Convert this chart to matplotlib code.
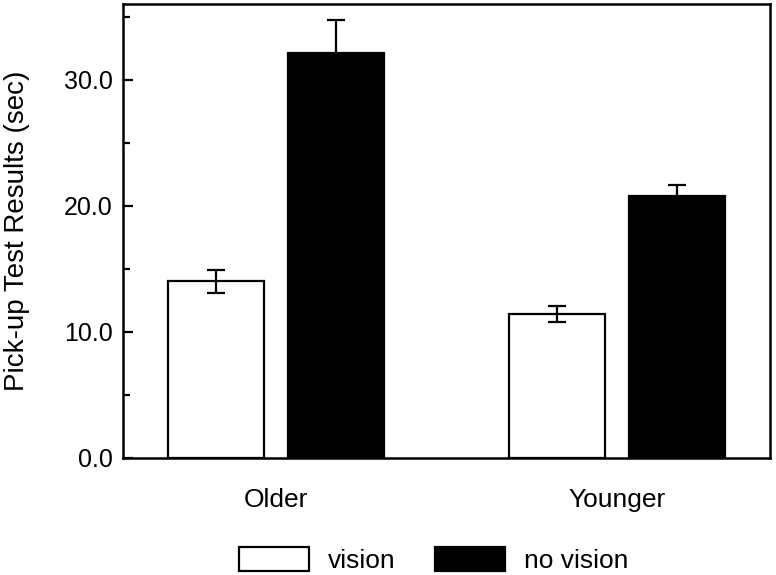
import matplotlib
matplotlib.use('Agg')
import matplotlib.pyplot as plt
from matplotlib.ticker import MultipleLocator, FormatStrFormatter
import numpy as np

plt.rcParams['font.family'] = ['Liberation Sans', 'DejaVu Sans']

groups = ['Older', 'Younger']
vision = [14.0, 11.4]
vision_err = [0.9, 0.65]
no_vision = [32.1, 20.8]
no_vision_err = [2.6, 0.85]

fig = plt.figure(figsize=(7.76, 5.75), dpi=100)
ax = fig.add_axes([0.1585, 0.2035, 0.8338, 0.7895])

x = np.arange(len(groups))
w = 0.282
off = 0.176

ax.bar(x - off, vision, w, color='white', edgecolor='black', linewidth=1.6,
       label='vision', zorder=2)
ax.bar(x + off, no_vision, w, color='black', edgecolor='black', linewidth=1.6,
       label='no vision', zorder=2)
ax.errorbar(x - off, vision, yerr=vision_err, fmt='none', ecolor='black',
            elinewidth=1.6, capsize=6.5, capthick=1.6, zorder=3)
ax.errorbar(x + off, no_vision, yerr=no_vision_err, fmt='none', ecolor='black',
            elinewidth=1.6, capsize=6.5, capthick=1.6, zorder=1)

ax.set_xlim(-0.45, 1.45)
ax.set_ylim(0, 36)
ax.set_xticks(x)
ax.set_xticklabels(groups, fontsize=19)
ax.tick_params(axis='x', length=0, pad=21.5)

ax.yaxis.set_major_locator(MultipleLocator(10))
ax.yaxis.set_minor_locator(MultipleLocator(5))
ax.yaxis.set_major_formatter(FormatStrFormatter('%.1f'))
ax.tick_params(axis='y', which='major', direction='in', length=7.5, width=1.6,
               labelsize=18, pad=7.2)
ax.tick_params(axis='y', which='minor', direction='in', length=5, width=1.6)
ax.set_ylabel('Pick-up Test Results (sec)', fontsize=20)
ax.yaxis.set_label_coords(-0.144, 0.5)

for s in ax.spines.values():
    s.set_linewidth(1.8)

fig.legend(loc='center', bbox_to_anchor=(0.5586, 0.026), ncol=2, frameon=False,
           fontsize=19, handlelength=2.65, handleheight=1.0, columnspacing=1.5,
           handletextpad=0.72, borderpad=0.2)

fig.savefig('out.png', dpi=100)
